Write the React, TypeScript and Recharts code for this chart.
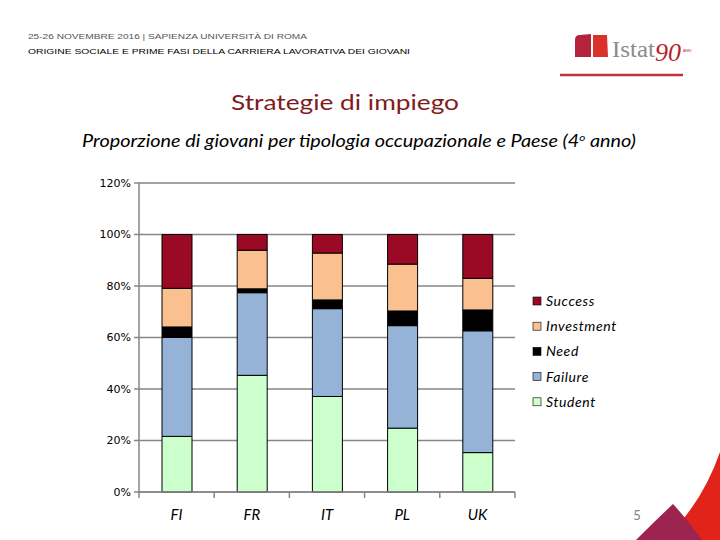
import React from 'react';
import { BarChart, Bar, XAxis, YAxis, CartesianGrid } from 'recharts';

const categories = ['FI', 'FR', 'IT', 'PL', 'UK'];
const student = [21.6, 45.3, 37.1, 24.8, 15.3];
const failure = [38.4, 32.1, 34.1, 39.8, 47.3];
const need = [4.1, 1.5, 3.4, 5.7, 8.1];
const investment = [15.0, 15.0, 18.2, 18.2, 12.3];
const success = [20.9, 6.1, 7.2, 11.5, 17.0];
const yTicks = [0, 20, 40, 60, 80, 100, 120];

const seriesKeys = ['Student', 'Failure', 'Need', 'Investment', 'Success'];
const seriesColors = ['#CCFFCC', '#95B3D7', '#000000', '#FAC090', '#9B0A25'];
const legendOrder = ['Success', 'Investment', 'Need', 'Failure', 'Student'];

const data = categories.map((name, i) => ({
  name,
  Student: student[i],
  Failure: failure[i],
  Need: need[i],
  Investment: investment[i],
  Success: success[i],
}));

const GRAY = '#868686';
const CHART_W = 720;
const CHART_H = 540;
const MARGIN = { top: 183, right: 205, bottom: 18, left: 79 };
const Y_AXIS_W = 60;
const BAND = (CHART_W - MARGIN.left - MARGIN.right - Y_AXIS_W) / categories.length;

const CategoryTick = (props: any) => {
  const { x, y, payload, index } = props;
  const last = index === categories.length - 1;
  return (
    <g>
      <line x1={x - BAND / 2} y1={y} x2={x - BAND / 2} y2={y + 6} stroke={GRAY} strokeWidth={1.5} />
      {last && <line x1={x + BAND / 2} y1={y} x2={x + BAND / 2} y2={y + 6} stroke={GRAY} strokeWidth={1.5} />}
      <text x={x} y={y + 28} textAnchor="middle" fill="#000" fontSize={15} fontStyle="italic" fontFamily='Lato, "Open Sans", sans-serif'>
        {payload.value}
      </text>
    </g>
  );
};

export default function App() {
  return (
    <div style={{ position: 'absolute', left: 0, top: 0, width: 720, height: 540, background: '#fff', overflow: 'hidden' }}>
      <div style={{ position: 'absolute', left: 0, top: 0 }}>
        <BarChart width={CHART_W} height={CHART_H} data={data} margin={MARGIN}>
          <CartesianGrid vertical={false} stroke={GRAY} strokeWidth={1.5} />
          <XAxis
            dataKey="name"
            height={30}
            axisLine={{ stroke: GRAY, strokeWidth: 1.5 }}
            tickLine={false}
            tickSize={0}
            tickMargin={0}
            interval={0}
            tick={<CategoryTick />}
          />
          <YAxis
            width={Y_AXIS_W}
            domain={[0, 120]}
            ticks={yTicks}
            interval={0}
            tickFormatter={(v: number) => `${v}%`}
            axisLine={{ stroke: GRAY, strokeWidth: 1.5 }}
            tickLine={{ stroke: GRAY, strokeWidth: 1.5 }}
            tickSize={5}
            tickMargin={3}
            tick={{ fill: '#000', fontSize: 11, fontFamily: '"DejaVu Sans", sans-serif' }}
          />
          {seriesKeys.map((k, i) => (
            <Bar
              key={k}
              dataKey={k}
              stackId="a"
              fill={seriesColors[i]}
              stroke="#000"
              strokeWidth={1}
              barSize={30}
              isAnimationActive={false}
            />
          ))}
        </BarChart>
      </div>
      <svg width={720} height={540} style={{ position: 'absolute', left: 0, top: 0, pointerEvents: 'none' }}>
        {/* header */}
        <text x={28} y={38.5} fontSize={8} fontFamily='"Liberation Sans", Arial, sans-serif' fill="#555" textLength={279} lengthAdjust="spacingAndGlyphs">
          25-26 NOVEMBRE 2016 | SAPIENZA UNIVERSITÀ DI ROMA
        </text>
        <text x={28} y={53.5} fontSize={8} fontFamily='"Liberation Sans", Arial, sans-serif' fill="#000" textLength={382} lengthAdjust="spacingAndGlyphs">
          ORIGINE SOCIALE E PRIME FASI DELLA CARRIERA LAVORATIVA DEI GIOVANI
        </text>
        {/* logo */}
        <path d="M575,40 Q575,35 580,35 L591,34 L591,57 L575,57 Z" fill="#B5223A" />
        <path d="M593,35 L607,35 L608,57 L593,57 Z" fill="#D9322A" />
        <text x={612} y={57} fontSize={24} fontFamily='"Liberation Serif", serif' fill="#8C8C8C" textLength={43} lengthAdjust="spacingAndGlyphs">Istat</text>
        <text x={655} y={61} fontSize={26} fontStyle="italic" fontFamily='"Liberation Serif", serif' fill="#B51E2E">90</text>
        <text x={683} y={52} fontSize={3.5} fontFamily='"Liberation Sans", sans-serif' fill="#B51E2E">ANNI</text>
        <line x1={560} y1={75} x2={683} y2={75} stroke="#C0303A" strokeWidth={2.5} />
        {/* titles */}
        <text x={345} y={109.5} textAnchor="middle" fontSize={21} fontFamily='Lato, "Open Sans", sans-serif' fill="#7F1D1D" textLength={228} lengthAdjust="spacingAndGlyphs">
          Strategie di impiego
        </text>
        <text x={82} y={147} fontSize={17} fontStyle="italic" fontFamily='Lato, "Open Sans", sans-serif' fill="#000" textLength={554} lengthAdjust="spacingAndGlyphs">
          Proporzione di giovani per tipologia occupazionale e Paese (4<tspan fontSize={10} dy={-6}>o</tspan><tspan dy={6}> anno)</tspan>
        </text>
        {/* legend */}
        {legendOrder.map((name, i) => {
          const c = seriesColors[seriesKeys.indexOf(name)];
          const cy = 301 + i * 25.2;
          return (
            <g key={name}>
              <rect x={533} y={cy - 4} width={8} height={8} fill={c} stroke="#000" strokeWidth={0.6} />
              <text x={546} y={cy + 5} fontSize={14} letterSpacing={0.6} fontStyle="italic" fontFamily='Lato, "Open Sans", sans-serif' fill="#000">
                {name}
              </text>
            </g>
          );
        })}
        {/* decoration bottom right */}
        <path d="M720,452 Q705,495 678,525 L694,540 L720,540 Z" fill="#E2231A" />
        <path d="M636,540 Q656,520 673,504 Q688,520 702,540 Z" fill="#9E2450" />
        <text x={637} y={520} textAnchor="middle" fontSize={13} fontFamily='Lato, "Open Sans", sans-serif' fill="#7F7F7F">5</text>
      </svg>
    </div>
  );
}
